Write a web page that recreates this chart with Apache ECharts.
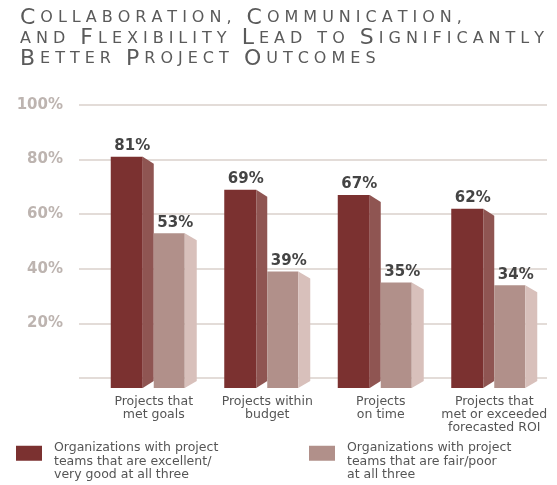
<!DOCTYPE html>
<html>
<head>
<meta charset="utf-8">
<script src="https://cdn.jsdelivr.net/npm/echarts@6/dist/echarts.min.js"></script>
<style>
  html, body { margin: 0; padding: 0; background: #fff; }
  #chart { width: 557px; height: 485px; }
</style>
</head>
<body>
<div id="chart"></div>
<script>
const TITLE_LINES = ['Collaboration, Communication,', 'and Flexibility Lead to Significantly', 'Better Project Outcomes'];
const CATEGORIES = ['Projects that\nmet goals', 'Projects within\nbudget', 'Projects\non time', 'Projects that\nmet or exceeded\nforecasted ROI'];
const GOOD_TEAMS = [81, 69, 67, 62];
const POOR_TEAMS = [53, 39, 35, 34];
const SERIES_NAMES = [
  'Organizations with project\nteams that are excellent/\nvery good at all three',
  'Organizations with project\nteams that are fair/poor\nat all three'
];
const Y_TICKS = [0, 20, 40, 60, 80, 100];

/* front / side colours for the fake 3d bars */
const DARK = { front: '#7b3130', side: '#8f5552' };
const LIGHT = { front: '#b1908a', side: '#d8c0bb' };

const chart = echarts.init(document.getElementById('chart'));

// small caps: every char becomes its own rich token so padding acts as letter spacing
function smallCaps(line) {
  return line.split('').map((ch) => {
    if (ch === ' ') return '{sp| }';
    const up = ch.toUpperCase();
    const isCap = ch !== ch.toLowerCase() && ch === up;
    return (isCap ? '{b|' : '{s|') + up + '}';
  }).join('');
}

// one bar = front rect + slanted side face + value label
function barRenderer(isDark) {
  const pal = isDark ? DARK : LIGHT;
  return function (params, api) {
    const i = api.value(0);
    const v = api.value(1);
    const top = api.coord([i, v]);
    const base = api.coord([i, 0]);
    const cx = top[0];
    const y0 = top[1];
    const y1 = base[1] + 10;
    const x0 = cx + (isDark ? -43 : 0);
    const x1 = x0 + (isDark ? 32 : 31);
    const x2 = x1 + (isDark ? 11 : 12);
    return {
      type: 'group',
      children: [
        { type: 'rect', shape: { x: x0, y: y0, width: x1 - x0, height: y1 - y0 }, style: { fill: pal.front } },
        { type: 'polygon', shape: { points: [[x1, y0], [x2, y0 + 7], [x2, y1 - 7], [x1, y1]] }, style: { fill: pal.side } },
        {
          type: 'text',
          style: {
            x: (x0 + x2) / 2, y: y0 - 3, text: v + '%',
            align: 'center', verticalAlign: 'bottom',
            fill: '#444', font: 'bold 15px "DejaVu Sans"'
          }
        }
      ]
    };
  };
}

const titleFont = { fontFamily: 'DejaVu Sans', fontWeight: 'normal', color: '#5a5a5a', lineHeight: 20.5 };
const SPACING = 5;

// legend text sits level with the top of the swatch, hence the small spacer line
const legendText = {
  fontFamily: 'DejaVu Sans', fontSize: 12.5, lineHeight: 13.5, color: '#555',
  padding: [0, 0, 0, 7],
  rich: { gap: { fontSize: 1, lineHeight: 16 } }
};

const option = {
  backgroundColor: '#fff',
  animation: false,
  title: {
    text: TITLE_LINES.map(smallCaps).join('\n'),
    left: 15,
    top: 3,
    textStyle: {
      fontWeight: 'normal',
      color: '#5a5a5a',
      lineHeight: 20.5,
      rich: {
        b: Object.assign({ fontSize: 22, padding: [0, SPACING, 0, 0] }, titleFont),
        s: Object.assign({ fontSize: 16, padding: [0, SPACING, 0, 0] }, titleFont),
        sp: Object.assign({ fontSize: 16, padding: [0, SPACING, 0, 0] }, titleFont)
      }
    }
  },
  legend: [
    {
      data: [SERIES_NAMES[0]], left: 16, top: 425, padding: 0,
      icon: 'rect', itemWidth: 26, itemHeight: 15, textStyle: legendText,
      formatter: (name) => '{gap| }\n' + name
    },
    {
      data: [SERIES_NAMES[1]], left: 309, top: 425, padding: 0,
      icon: 'rect', itemWidth: 26, itemHeight: 15, textStyle: legendText,
      formatter: (name) => '{gap| }\n' + name
    }
  ],
  grid: [
    { left: 79, right: 10, top: 105, bottom: 107 },
    { left: 97, right: 6, top: 105, bottom: 107 }
  ],
  xAxis: [
    { type: 'category', gridIndex: 0, data: CATEGORIES, show: false },
    {
      type: 'category', gridIndex: 1, data: CATEGORIES,
      axisLine: { show: false }, axisTick: { show: false },
      axisLabel: {
        interval: 0, margin: 17, color: '#555', fontSize: 12.5, lineHeight: 13,
        fontFamily: 'DejaVu Sans'
      }
    }
  ],
  yAxis: [
    {
      type: 'value', gridIndex: 0, min: Y_TICKS[0], max: Y_TICKS[Y_TICKS.length - 1], interval: 20,
      axisLine: { show: false }, axisTick: { show: false },
      splitLine: { lineStyle: { color: '#e3dcd8', width: 2 } },
      axisLabel: {
        margin: 16, color: '#bdb4b0', fontSize: 15, fontWeight: 'bold', fontFamily: 'DejaVu Sans',
        formatter: (v) => (v === 0 ? '' : v + '%')
      }
    },
    { type: 'value', gridIndex: 1, min: 0, max: 100, show: false }
  ],
  series: [
    {
      name: SERIES_NAMES[0], type: 'custom', xAxisIndex: 1, yAxisIndex: 1,
      itemStyle: { color: DARK.front },
      renderItem: barRenderer(true),
      encode: { x: 0, y: 1 },
      data: GOOD_TEAMS.map((v, i) => [i, v])
    },
    {
      name: SERIES_NAMES[1], type: 'custom', xAxisIndex: 1, yAxisIndex: 1,
      itemStyle: { color: LIGHT.front },
      renderItem: barRenderer(false),
      encode: { x: 0, y: 1 },
      data: POOR_TEAMS.map((v, i) => [i, v])
    }
  ]
};

chart.setOption(option);
</script>
</body>
</html>
